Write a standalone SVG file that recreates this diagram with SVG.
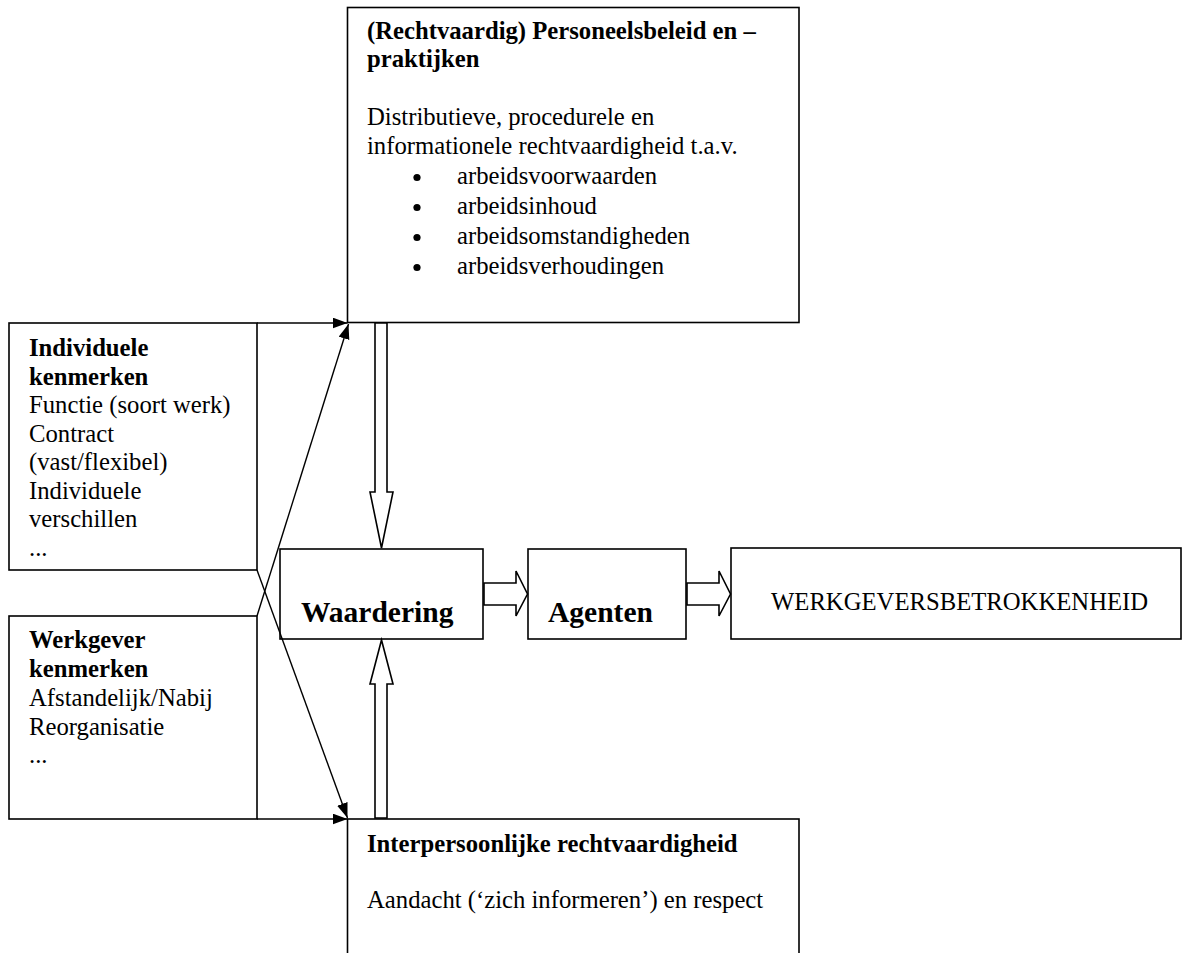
<svg xmlns="http://www.w3.org/2000/svg" width="1182" height="953" viewBox="0 0 1182 953">
<style>
.box{fill:#fff;stroke:#000;stroke-width:1.6}
.t{font-family:"Liberation Serif","Times New Roman",serif;font-size:24.7px;fill:#000}
.b{font-weight:bold}
.big{font-size:29.5px;font-weight:bold}
.hollow{fill:#fff;stroke:#000;stroke-width:1.6;stroke-linejoin:miter}
.thin{fill:none;stroke:#000;stroke-width:1.4}
.dot{fill:#000}
</style>
<defs>
<marker id="ah" markerUnits="userSpaceOnUse" markerWidth="16" markerHeight="12" refX="15" refY="5.5" orient="auto">
<path d="M0,0 L15,5.5 L0,11 z" fill="#000"/>
</marker>
</defs>
<rect width="1182" height="953" fill="#fff"/>

<g id="node-beleid">
<rect class="box" x="347.5" y="7.5" width="451.5" height="315"/>
<text class="t b" x="367" y="39">(Rechtvaardig) Personeelsbeleid en –</text>
<text class="t b" x="367" y="67">praktijken</text>
<text class="t" x="367" y="125">Distributieve, procedurele en</text>
<text class="t" x="367" y="154">informationele rechtvaardigheid t.a.v.</text>
<circle class="dot" cx="417" cy="177.5" r="3.6"/>
<text class="t" x="457" y="184">arbeidsvoorwaarden</text>
<circle class="dot" cx="417" cy="207.5" r="3.6"/>
<text class="t" x="457" y="214">arbeidsinhoud</text>
<circle class="dot" cx="417" cy="237.5" r="3.6"/>
<text class="t" x="457" y="244">arbeidsomstandigheden</text>
<circle class="dot" cx="417" cy="267.5" r="3.6"/>
<text class="t" x="457" y="274">arbeidsverhoudingen</text>
</g>

<g id="node-individueel">
<rect class="box" x="9" y="323" width="248" height="247"/>
<text class="t b" x="29" y="356">Individuele</text>
<text class="t b" x="29" y="384.5">kenmerken</text>
<text class="t" x="29" y="413">Functie (soort werk)</text>
<text class="t" x="29" y="441.5">Contract</text>
<text class="t" x="29" y="470">(vast/flexibel)</text>
<text class="t" x="29" y="498.5">Individuele</text>
<text class="t" x="29" y="527">verschillen</text>
<text class="t" x="29" y="555.5">...</text>
</g>

<g id="node-werkgever">
<rect class="box" x="9" y="616" width="248" height="203"/>
<text class="t b" x="29" y="648">Werkgever</text>
<text class="t b" x="29" y="677">kenmerken</text>
<text class="t" x="29" y="706">Afstandelijk/Nabij</text>
<text class="t" x="29" y="735">Reorganisatie</text>
<text class="t" x="29" y="763">...</text>
</g>

<g id="node-waardering">
<rect class="box" x="280" y="549" width="203" height="90"/>
<text class="t big" x="301" y="622">Waardering</text>
</g>

<g id="node-agenten">
<rect class="box" x="528" y="549" width="158" height="90"/>
<text class="t big" x="548" y="622">Agenten</text>
</g>

<g id="node-betrokkenheid">
<rect class="box" x="731" y="548" width="450" height="91"/>
<text class="t" x="771" y="610">WERKGEVERSBETROKKENHEID</text>
</g>

<g id="node-interpersoonlijk">
<rect class="box" x="347.5" y="819" width="451.5" height="160"/>
<text class="t b" x="367" y="852">Interpersoonlijke rechtvaardigheid</text>
<text class="t" x="367" y="908">Aandacht (‘zich informeren’) en respect</text>
</g>

<g id="connectors">
<line class="thin" x1="257" y1="323" x2="347.5" y2="323" marker-end="url(#ah)"/>
<line class="thin" x1="257" y1="819" x2="347.5" y2="819" marker-end="url(#ah)"/>
<line class="thin" x1="257" y1="616" x2="348.5" y2="324" marker-end="url(#ah)"/>
<line class="thin" x1="257" y1="570" x2="347.5" y2="818" marker-end="url(#ah)"/>
<polygon class="hollow" points="375,323 387,323 387,492 393,492 381.5,548 370,492 375,492"/>
<polygon class="hollow" points="375,818 387,818 387,684 393,684 381.5,640 370,684 375,684"/>
<polygon class="hollow" points="484,583 516,583 516,571 527.5,594 516,616 516,605 484,605"/>
<polygon class="hollow" points="687,583 719,583 719,571 730.5,594 719,616 719,605 687,605"/>
</g>
</svg>
